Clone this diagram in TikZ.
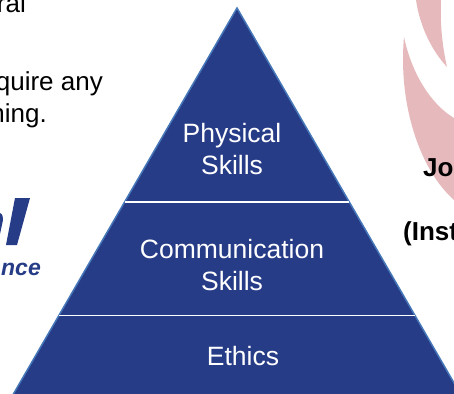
\documentclass[tikz,border=0pt]{standalone}
\usepackage{fontspec}
\setmainfont{Liberation Sans}
\usetikzlibrary{calc}
\definecolor{pyrblue}{RGB}{39,60,135}
\definecolor{pyredge}{RGB}{70,120,185}
\definecolor{swoosh}{RGB}{230,186,188}
\tikzset{
	layertext/.style = {text = white, align = center, font = \fontsize{26.5}{32}\selectfont},
	bodytext/.style = {anchor = base east, inner sep = 0, font = \fontsize{26}{32}\selectfont},
	sidetext/.style = {anchor = base west, inner sep = 0, font = \bfseries\fontsize{26}{32}\selectfont}
}
\begin{document}
\begin{tikzpicture}[x = 1pt, y = -1pt]
	\def\w{454};
	\def\h{393};

	\useasboundingbox (0,0) rectangle (\w,\h);
	\clip (0,0) rectangle (\w,\h);

	% pink marks behind the text
	\fill[swoosh] (416,0) .. controls (420,28) and (433,52) .. (447,67) .. controls (442,45) and (440,22) .. (441,0) -- cycle;
	\fill[swoosh] (404,37) .. controls (412,75) and (432,105) .. (454,118) -- (454,200) .. controls (420,170) and (398,105) .. (404,37) -- cycle;

	% logo
	\fill[pyrblue] (15,198) -- (30,198) -- (17,245) -- (6,245) -- cycle;
	\fill[pyrblue] (0,213) .. controls (3,214) and (3,218) .. (3,220) -- (0,234) -- cycle;
	\node[anchor = base east, inner sep = 0, text = pyrblue, font = \bfseries\itshape\fontsize{23}{23}\selectfont] (logotext) at (41,275) {nce};

	% text cut by the picture's edge
	\node[bodytext] (lineone) at (26,13) {ral};
	\node[bodytext] (linetwo) at (103,90) {quire any};
	\node[bodytext] (linethree) at (47,122) {ning.};
	\node[sidetext] (jobtext) at (423,176) {Jo};
	\node[sidetext] (insttext) at (403,240) {(Inst};

	% pyramid
	\coordinate (apex) at (237,8);
	\coordinate (baseleft) at (12.8,395);
	\coordinate (baseright) at (461,395);
	\coordinate (upleft) at ($(apex)!0.501!(baseleft)$);
	\coordinate (upright) at ($(apex)!0.501!(baseright)$);
	\coordinate (lowleft) at ($(apex)!0.795!(baseleft)$);
	\coordinate (lowright) at ($(apex)!0.795!(baseright)$);

	\draw[fill = pyrblue, draw = pyredge, line width = 1.5pt, line join = miter] (apex) -- (baseleft) -- (baseright) -- cycle;
	\draw[white, line width = 1.6pt] (upleft) -- (upright);
	\draw[white, line width = 1.6pt] (lowleft) -- (lowright);

	\node[layertext] (physical) at (232,149) {Physical\\Skills};
	\node[layertext] (communication) at (232,265) {Communication\\Skills};
	\node[layertext] (ethics) at (243,356) {Ethics};
\end{tikzpicture}
\end{document}
